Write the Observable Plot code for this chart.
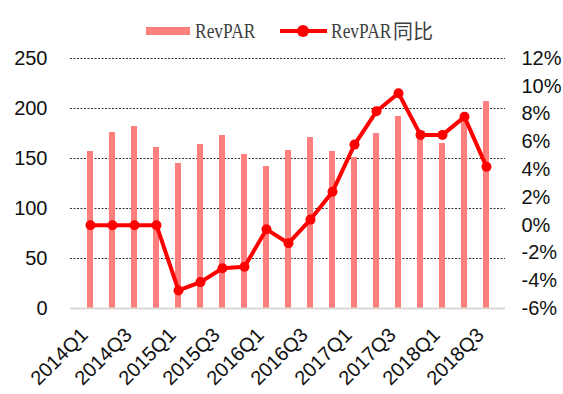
<!DOCTYPE html>
<html>
<head>
<meta charset="utf-8">
<script src="https://cdn.jsdelivr.net/npm/d3@7"></script>
<script src="https://cdn.jsdelivr.net/npm/@observablehq/plot@0.6"></script>
<style>
  body { margin: 0; background: #fff; width: 563px; height: 394px; overflow: hidden; font-family: "Liberation Sans", Arial, sans-serif; }
  #legend { position: relative; height: 48px; }
  #legend .sw-bar { position: absolute; left: 146px; top: 27px; width: 44px; height: 8px; background: #ff7f7f; }
  #legend .sw-line { position: absolute; left: 280px; top: 29px; width: 47px; height: 4px; background: #ff0000; }
  #legend .sw-dot { position: absolute; left: 297px; top: 25px; width: 12px; height: 12px; border-radius: 50%; background: #ff0000; }
  #legend .txt { position: absolute; top: 19px; line-height: 24px; font-size: 21px; color: #404040; white-space: nowrap; }
  #legend .lat { font-family: "Liberation Serif", serif; transform: scaleX(0.83); transform-origin: 0 50%; }
  #legend .cjk { font-family: "Noto Sans CJK SC", sans-serif; font-size: 20px; }
</style>
</head>
<body>
<div id="legend">
  <div class="sw-bar"></div>
  <div class="txt lat" style="left:195px">RevPAR</div>
  <div class="sw-line"></div>
  <div class="sw-dot"></div>
  <div class="txt lat" style="left:331px">RevPAR</div>
  <div class="txt cjk" style="left:393px">同比</div>
</div>
<div id="chart"></div>
<script>
// Quarterly RevPAR (left axis) and its year-over-year change in % (right axis)
const quarters = [
  "2014Q1", "2014Q2", "2014Q3", "2014Q4",
  "2015Q1", "2015Q2", "2015Q3", "2015Q4",
  "2016Q1", "2016Q2", "2016Q3", "2016Q4",
  "2017Q1", "2017Q2", "2017Q3", "2017Q4",
  "2018Q1", "2018Q2", "2018Q3"
];
const revpar = [157, 176, 182, 161, 145, 164, 173, 154, 142, 158, 171, 157, 151, 175, 192, 172, 165, 190, 207];
const yoy = [0, 0, 0, 0, -4.7, -4.1, -3.1, -3.0, -0.3, -1.3, 0.4, 2.4, 5.8, 8.2, 9.5, 6.5, 6.5, 7.8, 4.2];

const leftTicks = [0, 50, 100, 150, 200, 250];
const yoyTicks = [-6, -4, -2, 0, 2, 4, 6, 8, 10, 12];
const leftDomain = [0, 250];
const yoyDomain = [-6, 12];

// map a percentage onto the left (RevPAR) scale so both series share one y scale
const toLeft = p => (p - yoyDomain[0]) / (yoyDomain[1] - yoyDomain[0]) * (leftDomain[1] - leftDomain[0]) + leftDomain[0];
const fromLeft = v => (v - leftDomain[0]) / (leftDomain[1] - leftDomain[0]) * (yoyDomain[1] - yoyDomain[0]) + yoyDomain[0];

const rows = quarters.map((q, i) => ({ q, revpar: revpar[i], yoy: yoy[i], yl: toLeft(yoy[i]) }));

const chart = Plot.plot({
  width: 563,
  height: 346,
  marginLeft: 70,
  marginRight: 58,
  marginTop: 10,
  marginBottom: 86,
  style: { fontFamily: "Liberation Sans, Arial, sans-serif", fontSize: "20px", color: "#111", background: "#fff" },
  x: { type: "band", domain: quarters, padding: 0, label: null },
  y: { domain: leftDomain, label: null },
  marks: [
    Plot.ruleY(leftTicks.slice(1), { stroke: "#333", strokeWidth: 1, strokeDasharray: "2,1.5" }),
    Plot.barY(rows, { x: "q", y: "revpar", fill: "#ff7f7f", insetLeft: 8, insetRight: 8 }),
    Plot.ruleY([0], { stroke: "#d9d9d9", strokeWidth: 2 }),
    Plot.line(rows, { x: "q", y: "yl", stroke: "#ff0000", strokeWidth: 4 }),
    Plot.dot(rows, { x: "q", y: "yl", r: 5, fill: "#ff0000", stroke: "none" }),
    Plot.axisY(leftTicks, { anchor: "left", tickSize: 0, tickPadding: 23, fontSize: 20 }),
    Plot.axisY(yoyTicks.map(toLeft), {
      anchor: "right", tickSize: 0, tickPadding: 16, fontSize: 20,
      tickFormat: d => Math.round(fromLeft(d)) + "%"
    }),
    Plot.axisX(quarters.filter((d, i) => i % 2 === 0), {
      tickRotate: -45, tickSize: 0, tickPadding: 23, dx: -6, fontSize: 20
    })
  ]
});
document.getElementById("chart").append(chart);
</script>
</body>
</html>
